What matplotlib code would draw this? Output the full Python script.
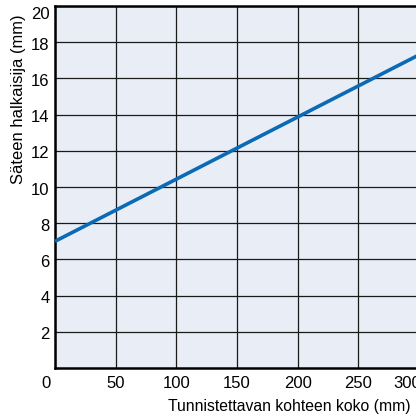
import matplotlib
matplotlib.use('Agg')
import matplotlib.pyplot as plt
from matplotlib.transforms import ScaledTranslation

# data
koko = [0, 300]          # object size (mm)
halkaisija = [7.0, 17.3]  # beam diameter (mm)

xticks = [0, 50, 100, 150, 200, 250, 300]
yticks = [2, 4, 6, 8, 10, 12, 14, 16, 18, 20]

plt.rcParams['font.family'] = ['Liberation Sans', 'DejaVu Sans']

fig = plt.figure(figsize=(4.16, 4.18), dpi=100)
ax = fig.add_axes([55/416, 1 - 368/418, 364/416, 362/418])
ax.set_facecolor('#e8edf6')

ax.plot(koko, halkaisija, color='#0a6ab6', lw=2.6, solid_capstyle='butt', zorder=3)

ax.set_xlim(0, 300)
ax.set_ylim(0, 20)
ax.set_xticks(xticks)
ax.set_yticks(yticks)
ax.grid(True, color='#1a1a1a', lw=0.9)
ax.set_axisbelow(True)

for s in ['left', 'bottom', 'top']:
    ax.spines[s].set_color('black')
    ax.spines[s].set_linewidth(1.8)
ax.spines['right'].set_visible(False)

ax.tick_params(length=0, labelsize=12, colors='black', pad=4)
ax.tick_params(axis='x', pad=6)


def nudge(lbl, dx, dy):
    # shift a tick label by pixels (figure is 100 dpi)
    lbl.set_transform(lbl.get_transform() + ScaledTranslation(dx/100, dy/100, fig.dpi_scale_trans))


xl = ax.get_xticklabels()
nudge(xl[0], -9, 0)
nudge(xl[-1], -12, 0)
yl = ax.get_yticklabels()
nudge(yl[-1], 0, -7)
for lbl in yl[:-1]:
    nudge(lbl, 0, -1.5)

fig.text(411/416, 1 - 407/418, 'Tunnistettavan kohteen koko (mm)', ha='right', va='center',
         fontsize=11.3)
fig.text(19/416, 1 - 99/418, 'Säteen halkaisija (mm)', rotation=90, ha='center', va='center',
         fontsize=11.9)

fig.savefig('out.png', dpi=100)
